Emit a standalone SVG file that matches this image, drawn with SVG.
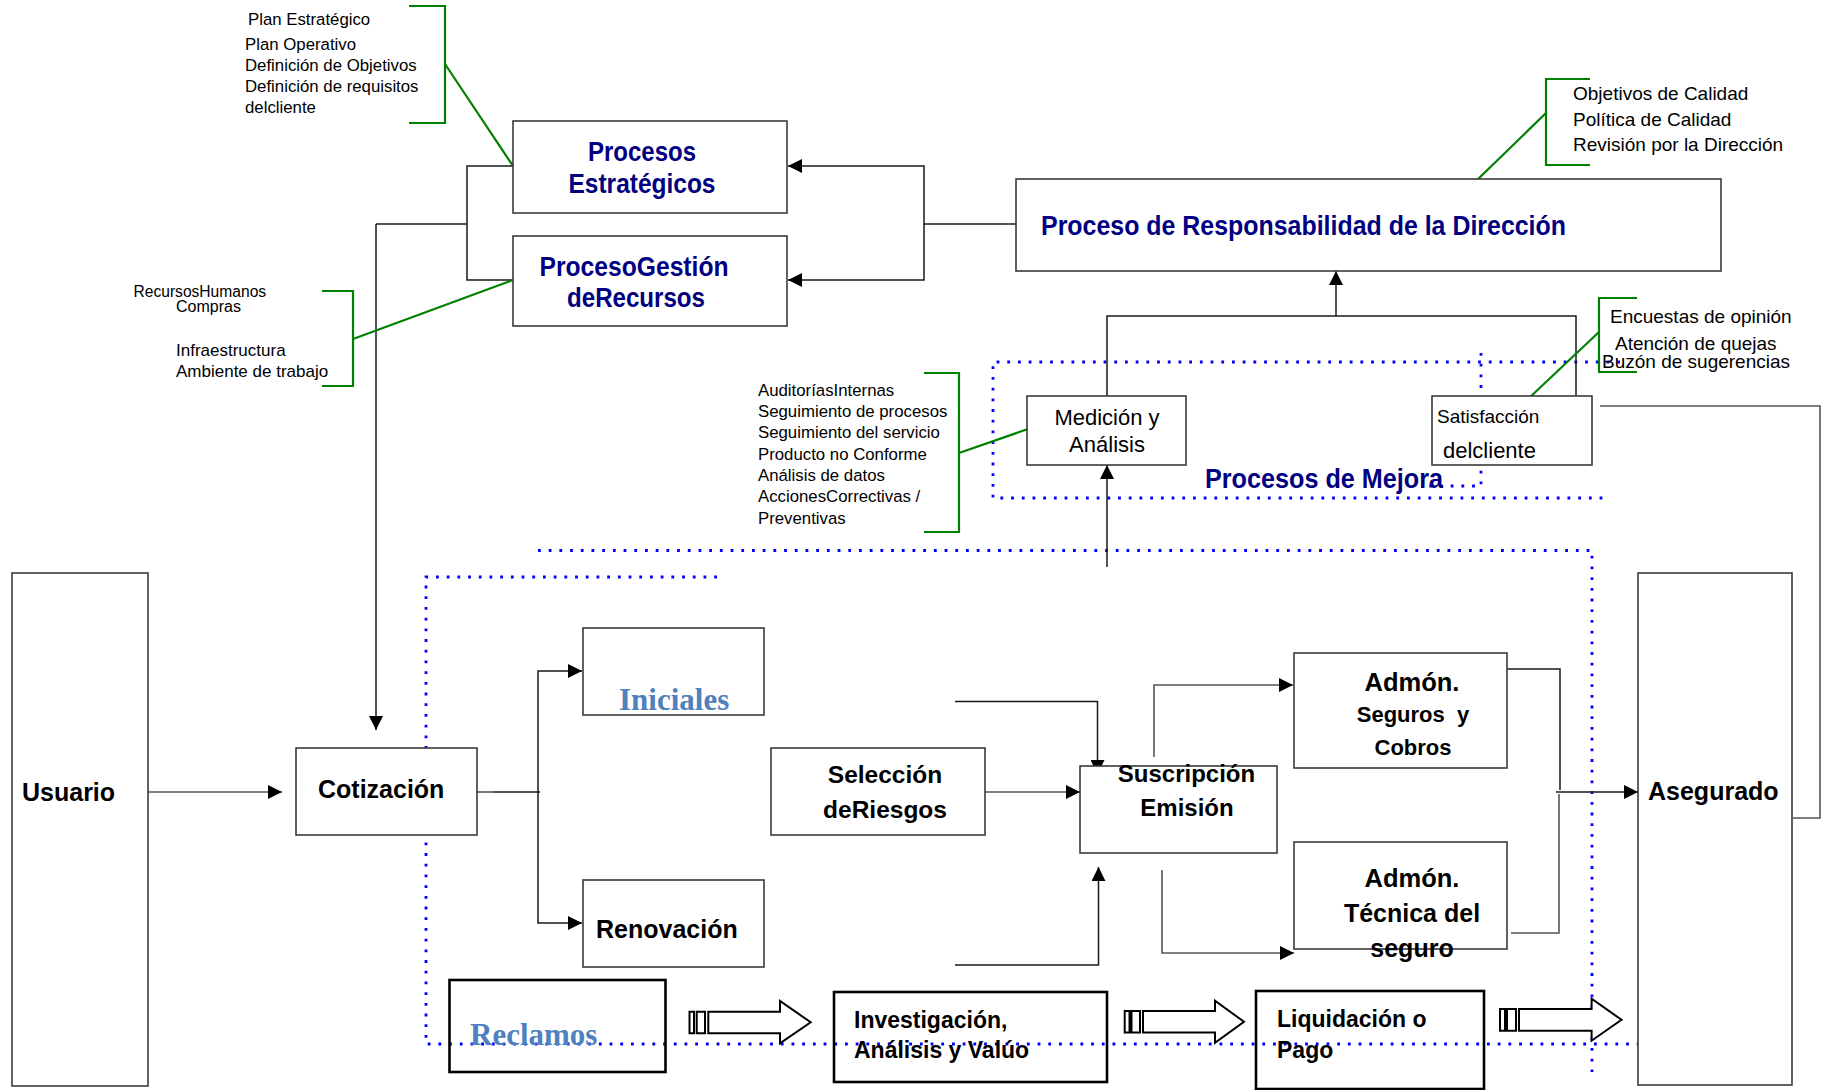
<svg xmlns="http://www.w3.org/2000/svg" width="1821" height="1090" viewBox="0 0 1821 1090">
<defs>
<marker id="ah" markerUnits="userSpaceOnUse" markerWidth="15" markerHeight="14" refX="14" refY="7" orient="auto">
<path d="M0,0 L14,7 L0,14 Z" fill="#000"/>
</marker>
<style>
.box{fill:#fff;stroke:#3a3a3a;stroke-width:1.6}
.boxk{fill:none;stroke:#000;stroke-width:2.6}
.ln{fill:none;stroke:#1a1a1a;stroke-width:1.5}
.lg{fill:none;stroke:#555;stroke-width:1.6}
.gr{fill:none;stroke:#008000;stroke-width:2.2}
.dot{fill:none;stroke:#0000ff;stroke-width:2.8;stroke-dasharray:2.8 7.9}
.sa{fill:#fff;stroke:#000;stroke-width:2}
.t{font-family:"Liberation Sans",Arial,sans-serif;fill:#000}
.tb{font-family:"Liberation Sans",Arial,sans-serif;font-weight:bold;fill:#000}
.tn{font-family:"Liberation Sans",Arial,sans-serif;font-weight:bold;fill:#000080}
.ts{font-family:"Liberation Serif","Times New Roman",serif;font-weight:bold;fill:#4f81bd}
.m{text-anchor:middle}
</style>
</defs>
<rect width="1821" height="1090" fill="#fff"/>

<g id="dotted">
<path class="dot" d="M1620 362 H993 V498 H1605"/>
<path class="dot" d="M1481 353 V486 H1425"/>
<path class="dot" d="M717 577 H426 V1044 H1638"/>
<path class="dot" d="M538 550.5 H1592 V1072"/>
</g>

<g id="connectors">
<path class="ln" d="M1016 224 H924 V166 H788" marker-end="url(#ah)"/>
<path class="ln" d="M924 224 V280 H788" marker-end="url(#ah)"/>
<path class="ln" d="M513 166 H467 V280 H513"/>
<path class="ln" d="M376 224 H467"/>
<path class="ln" d="M376 224 V730" stroke-width="2.6" marker-end="url(#ah)"/>
<path class="lg" d="M147.5 792 H282" marker-end="url(#ah)"/>
<path class="lg" d="M463 792 H493"/>
<path class="ln" d="M493 792 H540" stroke-width="3"/>
<path class="ln" d="M538 792 V671 H582" marker-end="url(#ah)"/>
<path class="ln" d="M538 792 V923 H582" marker-end="url(#ah)"/>
<path class="ln" d="M955 701.5 H1097.5 V774" marker-end="url(#ah)"/>
<path class="ln" d="M955 965 H1098.5 V867" marker-end="url(#ah)"/>
<path class="lg" d="M985 792 H1080" marker-end="url(#ah)"/>
<path class="lg" d="M1154 757 V685 H1293" marker-end="url(#ah)"/>
<path class="lg" d="M1162 870 V953 H1294" marker-end="url(#ah)"/>
<path class="ln" d="M1507 669 H1560 V790"/>
<path class="lg" d="M1511 933 H1559 V794"/>
<path class="ln" d="M1556 792 H1638" marker-end="url(#ah)"/>
<path class="ln" d="M1107 396 V316 H1576 V396"/>
<path class="ln" d="M1336 316 V271" marker-end="url(#ah)"/>
<path class="ln" d="M1107 567 V465" marker-end="url(#ah)"/>
<path class="lg" d="M1600 406 H1820 V818 H1793"/>
<path class="sa" d="M689.5 1011.7 h4.5 v21.6 h-4.5 Z M696.7 1011.7 h8.3 v21.6 h-8.3 Z M708.3 1011.7 H780 V1001 L810.7 1022.3 L780 1043.3 V1033.3 H708.3 Z"/>
<path class="sa" d="M1124.7 1011 h4.8 v21.5 h-4.8 Z M1131.5 1011 h8.5 v21.5 h-8.5 Z M1143 1011 H1215 V1000.7 L1244 1021.8 L1215 1042.7 V1032.5 H1143 Z"/>
<path class="sa" d="M1500 1009 h5 v21.7 h-5 Z M1507 1009 h9 v21.7 h-9 Z M1519 1009 H1591.6 V998.7 L1621.5 1019.8 L1591.6 1040.7 V1030.7 H1519 Z"/>
</g>

<g id="annotations">
<path class="gr" d="M409 6 H445 V123 H409"/>
<path class="gr" d="M445 64 L513 166"/>
<path class="gr" d="M322 291 H353 V386 H322"/>
<path class="gr" d="M353 339 L513 280"/>
<path class="gr" d="M1590 79 H1546 V165 H1590"/>
<path class="gr" d="M1546 113 L1474 183"/>
<path class="gr" d="M1637 298 H1599 V372 H1637"/>
<path class="gr" d="M1599 332 L1528 399"/>
<path class="gr" d="M924 373 H959 V532 H924"/>
<path class="gr" d="M959 453 L1028 429"/>
<g class="t" font-size="16.8">
<text x="248" y="25">Plan Estratégico</text>
<text x="245" y="50">Plan Operativo</text>
<text x="245" y="71">Definición de Objetivos</text>
<text x="245" y="92">Definición de requisitos</text>
<text x="245" y="113">delcliente</text>
</g>
<g class="t">
<text x="133.5" y="297" font-size="15.6">RecursosHumanos</text>
<text x="176" y="312" font-size="16">Compras</text>
<text x="176" y="356" font-size="17">Infraestructura</text>
<text x="176" y="377" font-size="17">Ambiente de trabajo</text>
</g>
<g class="t" font-size="19">
<text x="1573" y="100">Objetivos de Calidad</text>
<text x="1573" y="126">Política de Calidad</text>
<text x="1573" y="151">Revisión por la Dirección</text>
<text x="1610" y="323">Encuestas de opinión</text>
<text x="1615" y="350">Atención de quejas</text>
<text x="1602" y="368">Buzón de sugerencias</text>
</g>
<g class="t" font-size="16.8">
<text x="758" y="396">AuditoríasInternas</text>
<text x="758" y="417">Seguimiento de procesos</text>
<text x="758" y="438">Seguimiento del servicio</text>
<text x="758" y="460">Producto no Conforme</text>
<text x="758" y="481">Análisis de datos</text>
<text x="758" y="502">AccionesCorrectivas /</text>
<text x="758" y="524">Preventivas</text>
</g>
<text class="tn" x="1205" y="488" font-size="27" textLength="238" lengthAdjust="spacingAndGlyphs">Procesos de Mejora</text>
</g>

<g id="procesos-estrategicos">
<rect class="box" x="513" y="121" width="274" height="92"/>
<text class="tn m" x="642" y="161" font-size="27" textLength="108" lengthAdjust="spacingAndGlyphs">Procesos</text>
<text class="tn m" x="642" y="193" font-size="27" textLength="147" lengthAdjust="spacingAndGlyphs">Estratégicos</text>
</g>
<g id="proceso-gestion">
<rect class="box" x="513" y="236" width="274" height="90"/>
<text class="tn m" x="634" y="276" font-size="27" textLength="189" lengthAdjust="spacingAndGlyphs">ProcesoGestión</text>
<text class="tn m" x="636" y="307" font-size="27" textLength="138" lengthAdjust="spacingAndGlyphs">deRecursos</text>
</g>
<g id="responsabilidad">
<rect class="box" x="1016" y="179" width="705" height="92"/>
<text class="tn" x="1041" y="235" font-size="27" textLength="525" lengthAdjust="spacingAndGlyphs">Proceso de Responsabilidad de la Dirección</text>
</g>
<g id="medicion">
<rect class="box" x="1027" y="396" width="159" height="69"/>
<text class="t m" x="1107" y="425" font-size="22">Medición y</text>
<text class="t m" x="1107" y="452" font-size="22">Análisis</text>
</g>
<g id="satisfaccion">
<rect class="box" x="1432" y="396" width="160" height="69"/>
<text class="t" x="1437" y="423" font-size="19">Satisfacción</text>
<text class="t" x="1443" y="458" font-size="22">delcliente</text>
</g>
<g id="usuario">
<rect class="box" x="12" y="573" width="136" height="513"/>
<text class="tb" x="22" y="801" font-size="25">Usuario</text>
</g>
<g id="cotizacion">
<rect class="box" x="296" y="748" width="181" height="87"/>
<text class="tb" x="318" y="798" font-size="25">Cotización</text>
</g>
<g id="iniciales">
<rect class="box" x="583" y="628" width="181" height="87"/>
<text class="ts" x="619" y="710" font-size="31">Iniciales</text>
</g>
<g id="renovacion">
<rect class="box" x="583" y="880" width="181" height="87"/>
<text class="tb" x="596" y="938" font-size="25">Renovación</text>
</g>
<g id="seleccion">
<rect class="box" x="771" y="748" width="214" height="87"/>
<text class="tb m" x="885" y="783" font-size="24.5">Selección</text>
<text class="tb m" x="885" y="818" font-size="24.5">deRiesgos</text>
</g>
<g id="suscripcion">
<rect class="box" x="1080" y="766" width="197" height="87"/>
<text class="tb m" x="1186.5" y="782" font-size="24">Suscripción</text>
<text class="tb m" x="1187" y="816" font-size="24">Emisión</text>
</g>
<g id="admon-seguros">
<rect class="box" x="1294" y="653" width="213" height="115"/>
<text class="tb m" x="1412" y="691" font-size="25.5">Admón.</text>
<text class="tb m" x="1413" y="722" font-size="22" style="white-space:pre">Seguros  y</text>
<text class="tb m" x="1413" y="755" font-size="22">Cobros</text>
</g>
<g id="admon-tecnica">
<rect class="box" x="1294" y="842" width="213" height="107"/>
<text class="tb m" x="1412" y="887" font-size="25.5">Admón.</text>
<text class="tb m" x="1412" y="922" font-size="25">Técnica del</text>
<text class="tb m" x="1412" y="957" font-size="25">seguro</text>
</g>
<g id="asegurado">
<rect class="box" x="1638" y="573" width="154" height="512"/>
<text class="tb" x="1648" y="800" font-size="25">Asegurado</text>
</g>
<g id="reclamos">
<rect class="boxk" x="449.5" y="980" width="216" height="92"/>
<text class="ts" x="470" y="1045" font-size="31">Reclamos</text>
</g>
<g id="investigacion">
<rect class="boxk" x="834" y="992" width="273" height="90"/>
<text class="tb" x="854" y="1028" font-size="23">Investigación,</text>
<text class="tb" x="854" y="1058" font-size="23">Análisis y Valúo</text>
</g>
<g id="liquidacion">
<rect class="boxk" x="1256" y="991" width="228" height="98"/>
<text class="tb" x="1277" y="1027" font-size="23">Liquidación o</text>
<text class="tb" x="1277" y="1058" font-size="23">Pago</text>
</g>
</svg>
